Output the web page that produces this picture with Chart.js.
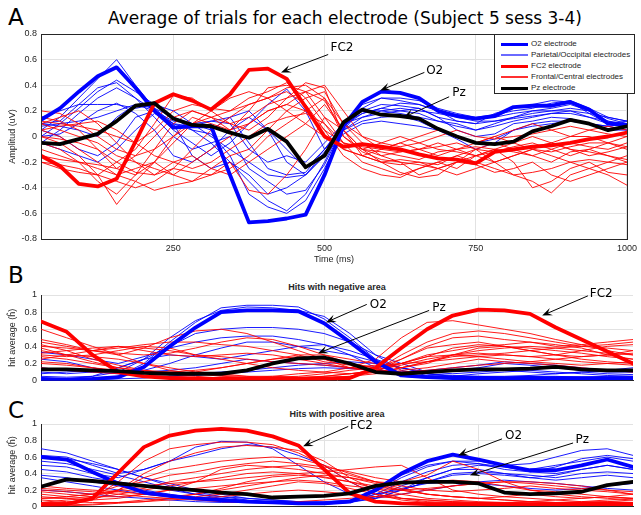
<!DOCTYPE html>
<html>
<head>
<meta charset="utf-8">
<script src="https://cdn.jsdelivr.net/npm/chart.js@4.4.1/dist/chart.umd.min.js"></script>
<style>
html, body { margin: 0; padding: 0; background: #fff; }
body { width: 641px; height: 515px; position: relative; overflow: hidden; font-family: "DejaVu Sans", sans-serif; }
canvas { position: absolute; left: 0; }
.txt { position: absolute; white-space: nowrap; line-height: 1; color: #000; }
.panel { font-size: 23px; left: 8px; }
.sub { font: bold 9px "Liberation Sans", Arial, sans-serif; color: #262626; transform: translate(-50%, -50%); }
#legend { position: absolute; left: 494px; top: 34px; width: 139px; height: 58px; border: 1px solid #262626; background: #fff; z-index: 5; }
#legend .row { position: absolute; left: 0; height: 10px; }
#legend .ln { position: absolute; left: 6px; width: 27px; }
#legend .lt { position: absolute; left: 36px; top: 0; font: 8px "Liberation Sans", Arial, sans-serif; color: #262626; line-height: 10px; white-space: nowrap; }
</style>
</head>
<body>
<div class="txt panel" style="top:6px">A</div>
<div class="txt" style="left:345px;top:18px;font-size:17px;transform:translate(-50%,-50%)">Average of trials for each electrode (Subject 5 sess 3-4)</div>
<div class="txt panel" style="top:264px">B</div>
<div class="txt sub" style="left:337px;top:287px">Hits with negative area</div>
<div class="txt panel" style="top:399px">C</div>
<div class="txt sub" style="left:337px;top:414px">Hits with positive area</div>

<canvas id="chartA" width="641" height="270" style="top:0"></canvas>
<canvas id="chartB" width="641" height="120" style="top:270px"></canvas>
<canvas id="chartC" width="641" height="118" style="top:398px"></canvas>

<div id="legend">
  <div class="row" style="top:4px"><div class="ln" style="top:4px;height:3px;background:#0000ff"></div><div class="lt">O2 electrode</div></div>
  <div class="row" style="top:15px"><div class="ln" style="top:4px;height:2px;background:#6a6aff"></div><div class="lt">Parietal/Occipital electrodes</div></div>
  <div class="row" style="top:26px"><div class="ln" style="top:4px;height:3px;background:#ff0000"></div><div class="lt">FC2 electrode</div></div>
  <div class="row" style="top:37px"><div class="ln" style="top:4px;height:2px;background:#ff3030"></div><div class="lt">Frontal/Central electrodes</div></div>
  <div class="row" style="top:48px"><div class="ln" style="top:4px;height:3px;background:#000"></div><div class="lt">Pz electrode</div></div>
</div>

<script>
( function () {
	'use strict';

	// sample times (ms)
	var timeA = [ 31.25, 62.5, 93.75, 125, 156.25, 187.5, 218.75, 250, 281.25, 312.5, 343.75, 375, 406.25, 437.5, 468.75, 500,
		531.25, 562.5, 593.75, 625, 656.25, 687.5, 718.75, 750, 781.25, 812.5, 843.75, 875, 906.25, 937.5, 968.75, 1000 ];
	var timeBC = [ 41.7, 83.3, 125, 166.7, 208.3, 250, 291.7, 333.3, 375, 416.7, 458.3, 500,
		541.7, 583.3, 625, 666.7, 708.3, 750, 791.7, 833.3, 875, 916.7, 958.3, 1000 ];

	var ticksTimeA = [ 250, 500, 750, 1000 ];
	var ticksTimeBC = [ 250, 500, 750 ];
	var ticksAmp = [ -0.8, -0.6, -0.4, -0.2, 0, 0.2, 0.4, 0.6, 0.8 ];
	var ticksHit = [ 0, 0.2, 0.4, 0.6, 0.8, 1 ];

	// ---- panel A: averaged amplitude ----
	var o2A = [ 0.13, 0.22, 0.35, 0.47, 0.54, 0.38, 0.2, 0.07, 0.08, 0.08, -0.3, -0.67, -0.66, -0.64, -0.61, -0.3,
		0.08, 0.27, 0.35, 0.34, 0.3, 0.2, 0.16, 0.14, 0.16, 0.23, 0.24, 0.24, 0.27, 0.21, 0.1, 0.09 ];
	var fc2A = [ -0.15, -0.23, -0.37, -0.39, -0.33, -0.04, 0.26, 0.33, 0.28, 0.21, 0.33, 0.52, 0.53, 0.45, 0.23, 0.0,
		-0.08, -0.06, -0.08, -0.1, -0.14, -0.17, -0.18, -0.21, -0.12, -0.1, -0.08, -0.07, -0.05, -0.02, 0.0, 0.03 ];
	var pzA = [ -0.05, -0.06, -0.02, 0.02, 0.12, 0.24, 0.26, 0.14, 0.09, 0.08, 0.03, -0.01, 0.06, -0.04, -0.24, -0.15,
		0.11, 0.21, 0.17, 0.16, 0.14, 0.06, 0.0, -0.05, -0.06, -0.04, 0.04, 0.08, 0.13, 0.1, 0.05, 0.08 ];
	var poThinA = [
		[ 0.05, 0.15, 0.3, 0.45, 0.6, 0.4, 0.22, 0.1, 0.05, 0.02, -0.15, -0.45, -0.55, -0.6, -0.5, -0.25, 0.05, 0.22, 0.3, 0.3, 0.28, 0.22, 0.18, 0.15, 0.17, 0.2, 0.22, 0.26, 0.28, 0.22, 0.15, 0.12 ],
		[ 0.0, 0.1, 0.22, 0.35, 0.44, 0.35, 0.25, 0.15, 0.05, -0.05, -0.2, -0.35, -0.5, -0.58, -0.45, -0.2, 0.1, 0.25, 0.3, 0.28, 0.25, 0.2, 0.17, 0.14, 0.15, 0.18, 0.2, 0.22, 0.25, 0.2, 0.12, 0.1 ],
		[ 0.1, 0.12, 0.25, 0.38, 0.42, 0.3, 0.15, 0.0, -0.1, -0.05, 0.0, -0.25, -0.35, -0.45, -0.42, -0.22, 0.08, 0.2, 0.25, 0.24, 0.22, 0.15, 0.12, 0.1, 0.12, 0.15, 0.18, 0.2, 0.22, 0.2, 0.14, 0.1 ],
		[ -0.05, 0.05, 0.18, 0.3, 0.38, 0.3, 0.2, 0.1, 0.08, 0.12, 0.15, -0.05, -0.25, -0.3, -0.28, -0.1, 0.1, 0.18, 0.22, 0.2, 0.18, 0.12, 0.08, 0.05, 0.08, 0.12, 0.15, 0.18, 0.18, 0.15, 0.1, 0.12 ],
		[ 0.15, 0.2, 0.25, 0.25, 0.25, 0.22, 0.25, 0.2, 0.1, 0.05, 0.15, 0.2, 0.05, -0.2, -0.3, -0.15, 0.1, 0.2, 0.2, 0.18, 0.15, 0.12, 0.1, 0.05, 0.1, 0.15, 0.2, 0.2, 0.2, 0.15, 0.12, 0.08 ],
		[ 0.05, 0.0, -0.1, -0.15, -0.05, 0.15, 0.2, 0.05, -0.05, -0.15, -0.05, 0.1, 0.25, 0.37, 0.2, -0.1, 0.05, 0.15, 0.18, 0.2, 0.22, 0.15, 0.05, 0.0, 0.02, 0.1, 0.12, 0.15, 0.14, 0.1, 0.08, 0.05 ],
		[ -0.05, -0.1, -0.15, -0.2, -0.1, 0.05, 0.18, 0.1, -0.15, -0.25, -0.2, -0.3, -0.45, -0.4, -0.3, -0.12, 0.05, 0.12, 0.15, 0.16, 0.12, 0.05, -0.02, -0.1, -0.05, 0.05, 0.1, 0.12, 0.12, 0.1, 0.05, 0.05 ],
		[ 0.1, 0.08, 0.05, 0.0, 0.15, 0.25, 0.2, 0.12, 0.1, 0.12, 0.1, -0.1, -0.2, -0.15, -0.2, -0.05, 0.1, 0.15, 0.2, 0.22, 0.2, 0.18, 0.15, 0.12, 0.12, 0.14, 0.16, 0.18, 0.2, 0.18, 0.15, 0.12 ],
		[ 0.0, 0.02, 0.1, 0.2, 0.26, 0.18, 0.05, -0.15, -0.2, -0.1, 0.05, 0.15, 0.05, -0.1, -0.25, -0.1, 0.08, 0.18, 0.22, 0.26, 0.25, 0.2, 0.12, 0.1, 0.18, 0.22, 0.25, 0.28, 0.27, 0.18, 0.1, 0.08 ],
		[ 0.08, 0.1, 0.12, 0.15, 0.2, 0.25, 0.22, 0.15, 0.1, 0.0, -0.1, -0.2, -0.3, -0.32, -0.3, -0.15, 0.02, 0.1, 0.12, 0.1, 0.08, 0.05, 0.0, -0.05, -0.02, 0.05, 0.08, 0.1, 0.12, 0.1, 0.08, 0.1 ]
	];
	var fcThinA = [
		[ 0.15, 0.12, 0.05, -0.1, -0.25, -0.3, -0.2, -0.05, 0.1, 0.15, 0.2, 0.3, 0.35, 0.42, 0.3, 0.1, -0.1, -0.15, -0.2, -0.18, -0.2, -0.22, -0.15, -0.1, -0.2, -0.3, -0.35, -0.44, -0.3, -0.25, -0.3, -0.38 ],
		[ 0.0, -0.05, -0.15, -0.3, -0.53, -0.35, -0.2, 0.0, 0.15, 0.1, 0.05, 0.2, 0.38, 0.4, 0.35, 0.15, -0.05, -0.2, -0.25, -0.3, -0.25, -0.2, -0.25, -0.15, -0.1, -0.2, -0.4, -0.35, -0.25, -0.2, -0.28, -0.3 ],
		[ -0.2, -0.22, -0.25, -0.3, -0.2, -0.1, 0.1, 0.32, 0.3, 0.2, 0.1, 0.15, 0.25, 0.3, 0.42, 0.38, 0.0, -0.1, -0.12, -0.15, -0.18, -0.12, -0.1, -0.08, -0.1, -0.12, -0.15, -0.1, -0.05, -0.08, -0.1, -0.05 ],
		[ 0.1, 0.15, 0.2, 0.1, -0.05, -0.2, -0.3, -0.25, -0.1, 0.05, 0.15, 0.25, 0.3, 0.35, 0.25, 0.05, -0.05, -0.08, -0.1, -0.12, -0.1, -0.05, -0.1, -0.15, -0.2, -0.15, -0.1, -0.12, -0.08, -0.05, -0.05, -0.1 ],
		[ 0.05, 0.0, -0.1, -0.2, -0.3, -0.25, -0.2, -0.3, -0.35, -0.25, -0.15, -0.1, 0.05, 0.2, 0.3, 0.35, 0.1, -0.05, -0.15, -0.2, -0.3, -0.25, -0.2, -0.1, -0.05, -0.1, -0.15, -0.2, -0.12, -0.1, -0.15, -0.2 ],
		[ -0.1, -0.15, -0.2, -0.25, -0.3, -0.35, -0.42, -0.38, -0.35, -0.3, -0.2, -0.42, -0.45, -0.3, -0.1, 0.15, 0.05, -0.1, -0.2, -0.28, -0.32, -0.3, -0.2, -0.15, -0.1, -0.05, 0.0, -0.05, -0.1, -0.15, -0.12, -0.08 ],
		[ 0.2, 0.18, 0.1, 0.0, -0.1, -0.15, -0.1, 0.0, 0.1, 0.2, 0.3, 0.35, 0.3, 0.2, 0.1, 0.0, -0.1, -0.15, -0.1, -0.05, 0.0, 0.05, 0.0, -0.05, 0.0, 0.05, 0.1, 0.05, 0.0, 0.05, 0.08, 0.05 ],
		[ -0.05, -0.1, -0.2, -0.35, -0.45, -0.3, -0.1, 0.1, 0.2, 0.15, 0.05, 0.1, 0.2, 0.25, 0.2, 0.05, -0.15, -0.25, -0.3, -0.32, -0.25, -0.2, -0.15, -0.2, -0.25, -0.3, -0.28, -0.25, -0.2, -0.18, -0.2, -0.15 ],
		[ 0.1, 0.05, 0.0, -0.05, -0.15, -0.2, -0.25, -0.3, -0.2, -0.1, 0.0, 0.1, 0.2, 0.25, 0.35, 0.4, 0.2, 0.0, -0.1, -0.05, -0.1, -0.15, -0.1, -0.05, 0.0, -0.05, -0.1, -0.05, 0.0, 0.0, -0.05, 0.0 ],
		[ -0.15, -0.18, -0.2, -0.22, -0.25, -0.15, 0.0, 0.15, 0.2, 0.15, 0.1, 0.05, 0.15, 0.3, 0.35, 0.28, 0.05, -0.1, -0.05, 0.0, -0.05, -0.1, -0.12, -0.15, -0.12, -0.1, -0.08, -0.05, -0.1, -0.12, -0.15, -0.18 ],
		[ 0.0, -0.02, -0.05, -0.1, -0.2, -0.28, -0.3, -0.2, -0.15, -0.25, -0.3, -0.2, -0.1, 0.0, 0.1, 0.25, 0.05, -0.15, -0.2, -0.22, -0.2, -0.25, -0.3, -0.25, -0.2, -0.15, -0.1, -0.15, -0.2, -0.25, -0.2, -0.22 ],
		[ 0.12, 0.1, 0.08, 0.05, 0.0, -0.05, 0.05, 0.2, 0.25, 0.22, 0.2, 0.25, 0.3, 0.38, 0.4, 0.3, 0.1, 0.0, -0.05, -0.08, -0.05, 0.0, 0.05, 0.0, -0.02, 0.0, 0.02, 0.05, 0.08, 0.05, 0.02, 0.0 ],
		[ -0.2, -0.25, -0.28, -0.3, -0.35, -0.4, -0.35, -0.25, -0.28, -0.3, -0.25, -0.15, 0.0, 0.1, 0.2, 0.3, 0.0, -0.12, -0.18, -0.2, -0.22, -0.25, -0.2, -0.22, -0.28, -0.25, -0.2, -0.3, -0.35, -0.3, -0.25, -0.2 ],
		[ 0.05, 0.08, 0.1, 0.12, 0.05, -0.05, -0.15, -0.2, -0.25, -0.2, -0.1, 0.0, 0.1, 0.15, 0.18, 0.1, -0.05, -0.1, -0.15, -0.12, -0.1, -0.08, -0.05, -0.1, -0.12, -0.08, -0.05, -0.1, -0.15, -0.1, -0.05, -0.08 ]
	];

	// ---- panel B: hits with negative area ----
	var o2B = [ 0.02, 0.01, 0.02, 0.04, 0.16, 0.4, 0.62, 0.8, 0.82, 0.82, 0.81, 0.67, 0.45, 0.22, 0.06, 0.04, 0.03, 0.03, 0.03, 0.03, 0.03, 0.03, 0.03, 0.03 ];
	var fc2B = [ 0.69, 0.57, 0.3, 0.1, 0.05, 0.03, 0.02, 0.02, 0.02, 0.02, 0.02, 0.02, 0.03, 0.15, 0.38, 0.6, 0.76, 0.83, 0.82, 0.78, 0.62, 0.48, 0.34, 0.2 ];
	var pzB = [ 0.13, 0.13, 0.12, 0.11, 0.09, 0.08, 0.08, 0.08, 0.12, 0.2, 0.26, 0.27, 0.2, 0.1, 0.08, 0.1, 0.12, 0.13, 0.13, 0.14, 0.16, 0.13, 0.12, 0.12 ];
	var poThinB = [
		[ 0.03, 0.02, 0.03, 0.05, 0.2, 0.45, 0.68, 0.85, 0.88, 0.88, 0.86, 0.72, 0.5, 0.25, 0.08, 0.05, 0.04, 0.03, 0.03, 0.03, 0.04, 0.04, 0.03, 0.03 ],
		[ 0.05, 0.04, 0.05, 0.1, 0.25, 0.5, 0.7, 0.82, 0.86, 0.85, 0.82, 0.75, 0.55, 0.3, 0.12, 0.06, 0.05, 0.05, 0.04, 0.05, 0.05, 0.04, 0.05, 0.05 ],
		[ 0.1, 0.08, 0.1, 0.15, 0.25, 0.4, 0.55, 0.6, 0.62, 0.62, 0.6, 0.55, 0.45, 0.3, 0.2, 0.1, 0.08, 0.1, 0.12, 0.1, 0.08, 0.1, 0.08, 0.07 ],
		[ 0.33, 0.3, 0.25, 0.2, 0.28, 0.38, 0.45, 0.5, 0.52, 0.52, 0.48, 0.42, 0.35, 0.25, 0.15, 0.1, 0.12, 0.15, 0.2, 0.18, 0.15, 0.12, 0.1, 0.1 ],
		[ 0.25, 0.22, 0.15, 0.1, 0.12, 0.2, 0.3, 0.38, 0.45, 0.45, 0.4, 0.35, 0.3, 0.22, 0.15, 0.08, 0.05, 0.08, 0.1, 0.12, 0.1, 0.08, 0.06, 0.05 ],
		[ 0.02, 0.02, 0.05, 0.15, 0.25, 0.3, 0.28, 0.25, 0.3, 0.35, 0.4, 0.42, 0.3, 0.15, 0.05, 0.03, 0.02, 0.02, 0.03, 0.05, 0.03, 0.02, 0.03, 0.04 ],
		[ 0.08, 0.1, 0.12, 0.12, 0.1, 0.12, 0.15, 0.2, 0.25, 0.22, 0.2, 0.18, 0.15, 0.12, 0.1, 0.12, 0.15, 0.18, 0.22, 0.2, 0.18, 0.15, 0.12, 0.1 ],
		[ 0.0, 0.0, 0.01, 0.02, 0.03, 0.05, 0.08, 0.1, 0.12, 0.15, 0.18, 0.2, 0.22, 0.2, 0.15, 0.08, 0.05, 0.04, 0.03, 0.02, 0.02, 0.03, 0.02, 0.02 ],
		[ 0.15, 0.12, 0.1, 0.08, 0.05, 0.05, 0.06, 0.08, 0.1, 0.12, 0.14, 0.15, 0.14, 0.12, 0.1, 0.08, 0.06, 0.05, 0.05, 0.06, 0.08, 0.1, 0.12, 0.15 ]
	];
	var fcThinB = [
		[ 0.6, 0.5, 0.4, 0.3, 0.2, 0.12, 0.08, 0.05, 0.04, 0.05, 0.08, 0.1, 0.15, 0.25, 0.5, 0.68, 0.7, 0.65, 0.6, 0.55, 0.48, 0.42, 0.35, 0.3 ],
		[ 0.48, 0.42, 0.35, 0.3, 0.38, 0.5, 0.58, 0.6, 0.55, 0.45, 0.35, 0.25, 0.15, 0.12, 0.3, 0.45, 0.55, 0.58, 0.55, 0.5, 0.45, 0.4, 0.38, 0.35 ],
		[ 0.45, 0.4, 0.35, 0.38, 0.42, 0.45, 0.45, 0.42, 0.4, 0.35, 0.3, 0.22, 0.18, 0.15, 0.2, 0.3, 0.35, 0.4, 0.42, 0.45, 0.4, 0.42, 0.45, 0.48 ],
		[ 0.4, 0.38, 0.35, 0.32, 0.3, 0.32, 0.38, 0.45, 0.5, 0.48, 0.4, 0.3, 0.2, 0.15, 0.25, 0.38, 0.42, 0.45, 0.4, 0.35, 0.3, 0.28, 0.3, 0.32 ],
		[ 0.38, 0.3, 0.22, 0.15, 0.1, 0.08, 0.1, 0.15, 0.2, 0.25, 0.3, 0.3, 0.25, 0.2, 0.15, 0.2, 0.3, 0.38, 0.4, 0.38, 0.35, 0.32, 0.28, 0.25 ],
		[ 0.35, 0.3, 0.28, 0.25, 0.2, 0.15, 0.1, 0.08, 0.05, 0.03, 0.03, 0.05, 0.08, 0.12, 0.2, 0.28, 0.3, 0.32, 0.3, 0.28, 0.3, 0.35, 0.4, 0.42 ],
		[ 0.3, 0.28, 0.3, 0.35, 0.4, 0.38, 0.3, 0.25, 0.2, 0.15, 0.12, 0.1, 0.08, 0.1, 0.15, 0.22, 0.28, 0.3, 0.32, 0.35, 0.38, 0.4, 0.42, 0.45 ],
		[ 0.28, 0.25, 0.2, 0.15, 0.12, 0.1, 0.08, 0.06, 0.05, 0.05, 0.04, 0.05, 0.08, 0.12, 0.18, 0.25, 0.3, 0.28, 0.25, 0.22, 0.2, 0.18, 0.2, 0.22 ],
		[ 0.25, 0.3, 0.35, 0.4, 0.38, 0.35, 0.3, 0.28, 0.25, 0.22, 0.2, 0.18, 0.15, 0.18, 0.2, 0.22, 0.25, 0.28, 0.3, 0.28, 0.25, 0.22, 0.2, 0.18 ],
		[ 0.22, 0.2, 0.15, 0.1, 0.05, 0.03, 0.02, 0.02, 0.02, 0.02, 0.03, 0.04, 0.05, 0.1, 0.25, 0.4, 0.5, 0.52, 0.48, 0.45, 0.42, 0.38, 0.3, 0.25 ],
		[ 0.2, 0.18, 0.15, 0.12, 0.1, 0.1, 0.12, 0.15, 0.2, 0.25, 0.28, 0.25, 0.2, 0.15, 0.12, 0.15, 0.2, 0.25, 0.22, 0.2, 0.18, 0.15, 0.12, 0.1 ],
		[ 0.15, 0.12, 0.1, 0.08, 0.06, 0.05, 0.04, 0.03, 0.03, 0.04, 0.05, 0.08, 0.12, 0.15, 0.2, 0.28, 0.38, 0.42, 0.4, 0.35, 0.3, 0.25, 0.22, 0.2 ],
		[ 0.42, 0.35, 0.25, 0.18, 0.12, 0.08, 0.05, 0.03, 0.02, 0.02, 0.02, 0.03, 0.05, 0.08, 0.15, 0.22, 0.3, 0.35, 0.38, 0.4, 0.38, 0.35, 0.32, 0.3 ],
		[ 0.32, 0.35, 0.38, 0.4, 0.35, 0.3, 0.28, 0.3, 0.32, 0.3, 0.25, 0.2, 0.15, 0.12, 0.1, 0.12, 0.15, 0.18, 0.2, 0.22, 0.25, 0.28, 0.3, 0.35 ]
	];

	// ---- panel C: hits with positive area ----
	var o2C = [ 0.6, 0.57, 0.42, 0.28, 0.17, 0.13, 0.1, 0.08, 0.06, 0.05, 0.04, 0.04, 0.06, 0.2, 0.4, 0.55, 0.63, 0.57, 0.5, 0.44, 0.44, 0.5, 0.57, 0.48 ];
	var fc2C = [ 0.03, 0.03, 0.1, 0.41, 0.72, 0.86, 0.92, 0.94, 0.92, 0.85, 0.74, 0.45, 0.16, 0.06, 0.04, 0.03, 0.03, 0.03, 0.03, 0.03, 0.03, 0.03, 0.03, 0.03 ];
	var pzC = [ 0.24, 0.33, 0.31, 0.28, 0.25, 0.22, 0.2, 0.17, 0.15, 0.11, 0.12, 0.13, 0.16, 0.25, 0.29, 0.3, 0.3, 0.28, 0.17, 0.15, 0.16, 0.18, 0.26, 0.3 ];
	var poThinC = [
		[ 0.7, 0.65, 0.55, 0.45, 0.35, 0.25, 0.18, 0.12, 0.08, 0.05, 0.04, 0.04, 0.06, 0.2, 0.38, 0.5, 0.55, 0.55, 0.5, 0.52, 0.6, 0.68, 0.7, 0.62 ],
		[ 0.62, 0.6, 0.5, 0.4, 0.45, 0.55, 0.72, 0.79, 0.78, 0.7, 0.5, 0.3, 0.15, 0.1, 0.2, 0.35, 0.45, 0.5, 0.48, 0.45, 0.5, 0.55, 0.6, 0.55 ],
		[ 0.55, 0.52, 0.45, 0.38, 0.3, 0.22, 0.15, 0.1, 0.06, 0.04, 0.03, 0.03, 0.05, 0.15, 0.3, 0.42, 0.5, 0.52, 0.48, 0.42, 0.4, 0.45, 0.5, 0.45 ],
		[ 0.5, 0.48, 0.4, 0.35, 0.45, 0.55, 0.62, 0.7, 0.75, 0.72, 0.62, 0.5, 0.3, 0.15, 0.2, 0.3, 0.4, 0.42, 0.4, 0.38, 0.35, 0.4, 0.42, 0.4 ],
		[ 0.45, 0.42, 0.35, 0.3, 0.25, 0.2, 0.15, 0.12, 0.1, 0.08, 0.06, 0.05, 0.05, 0.1, 0.2, 0.3, 0.38, 0.4, 0.38, 0.35, 0.32, 0.35, 0.38, 0.35 ],
		[ 0.38, 0.35, 0.3, 0.25, 0.2, 0.15, 0.1, 0.08, 0.06, 0.05, 0.04, 0.04, 0.05, 0.12, 0.25, 0.35, 0.45, 0.45, 0.4, 0.35, 0.38, 0.45, 0.5, 0.45 ],
		[ 0.35, 0.3, 0.25, 0.2, 0.15, 0.12, 0.1, 0.08, 0.06, 0.05, 0.05, 0.06, 0.08, 0.15, 0.22, 0.28, 0.3, 0.28, 0.25, 0.22, 0.2, 0.22, 0.25, 0.28 ],
		[ 0.2, 0.18, 0.15, 0.12, 0.1, 0.08, 0.06, 0.05, 0.05, 0.04, 0.04, 0.05, 0.06, 0.1, 0.15, 0.2, 0.25, 0.3, 0.32, 0.3, 0.28, 0.25, 0.22, 0.2 ],
		[ 0.6, 0.58, 0.52, 0.45, 0.35, 0.28, 0.2, 0.15, 0.1, 0.08, 0.06, 0.05, 0.06, 0.18, 0.35, 0.48, 0.55, 0.52, 0.45, 0.42, 0.48, 0.58, 0.62, 0.58 ]
	];
	var fcThinC = [
		[ 0.05, 0.05, 0.1, 0.3, 0.55, 0.7, 0.75, 0.78, 0.78, 0.75, 0.65, 0.5, 0.3, 0.15, 0.08, 0.05, 0.04, 0.03, 0.03, 0.03, 0.04, 0.05, 0.05, 0.05 ],
		[ 0.02, 0.03, 0.08, 0.2, 0.4, 0.55, 0.65, 0.72, 0.74, 0.72, 0.68, 0.55, 0.35, 0.2, 0.1, 0.06, 0.05, 0.04, 0.05, 0.06, 0.08, 0.1, 0.12, 0.1 ],
		[ 0.1, 0.1, 0.12, 0.2, 0.35, 0.45, 0.5, 0.55, 0.58, 0.6, 0.58, 0.5, 0.4, 0.3, 0.22, 0.15, 0.12, 0.1, 0.12, 0.15, 0.12, 0.1, 0.12, 0.15 ],
		[ 0.15, 0.12, 0.15, 0.25, 0.3, 0.38, 0.42, 0.48, 0.52, 0.55, 0.52, 0.48, 0.42, 0.35, 0.3, 0.38, 0.55, 0.45, 0.3, 0.2, 0.15, 0.12, 0.1, 0.08 ],
		[ 0.2, 0.18, 0.15, 0.18, 0.22, 0.3, 0.35, 0.4, 0.45, 0.48, 0.5, 0.45, 0.38, 0.3, 0.25, 0.2, 0.18, 0.2, 0.22, 0.25, 0.22, 0.2, 0.18, 0.15 ],
		[ 0.05, 0.08, 0.1, 0.15, 0.2, 0.25, 0.3, 0.35, 0.4, 0.42, 0.4, 0.35, 0.3, 0.25, 0.2, 0.15, 0.12, 0.1, 0.08, 0.06, 0.05, 0.05, 0.06, 0.08 ],
		[ 0.25, 0.22, 0.2, 0.18, 0.15, 0.12, 0.15, 0.2, 0.25, 0.3, 0.35, 0.38, 0.35, 0.3, 0.28, 0.3, 0.32, 0.3, 0.25, 0.2, 0.18, 0.15, 0.12, 0.1 ],
		[ 0.02, 0.02, 0.03, 0.05, 0.08, 0.1, 0.12, 0.15, 0.2, 0.25, 0.3, 0.28, 0.22, 0.15, 0.1, 0.08, 0.06, 0.05, 0.05, 0.04, 0.04, 0.05, 0.06, 0.05 ],
		[ 0.12, 0.1, 0.08, 0.1, 0.15, 0.2, 0.22, 0.25, 0.28, 0.3, 0.32, 0.3, 0.25, 0.22, 0.2, 0.22, 0.25, 0.28, 0.3, 0.28, 0.25, 0.22, 0.2, 0.18 ],
		[ 0.08, 0.06, 0.05, 0.05, 0.06, 0.08, 0.1, 0.12, 0.15, 0.18, 0.2, 0.18, 0.15, 0.12, 0.1, 0.08, 0.06, 0.05, 0.04, 0.04, 0.05, 0.06, 0.08, 0.1 ],
		[ 0.18, 0.15, 0.12, 0.12, 0.15, 0.2, 0.3, 0.45, 0.5, 0.48, 0.45, 0.4, 0.35, 0.28, 0.2, 0.15, 0.12, 0.1, 0.08, 0.06, 0.05, 0.04, 0.04, 0.05 ],
		[ 0.0, 0.01, 0.02, 0.04, 0.06, 0.1, 0.15, 0.22, 0.3, 0.36, 0.38, 0.36, 0.3, 0.22, 0.15, 0.1, 0.08, 0.06, 0.05, 0.04, 0.03, 0.03, 0.02, 0.02 ],
		[ 0.22, 0.2, 0.18, 0.15, 0.12, 0.1, 0.08, 0.06, 0.05, 0.05, 0.06, 0.08, 0.1, 0.12, 0.15, 0.2, 0.25, 0.28, 0.3, 0.3, 0.28, 0.25, 0.2, 0.15 ],
		[ 0.1, 0.12, 0.15, 0.2, 0.25, 0.28, 0.3, 0.32, 0.35, 0.38, 0.4, 0.42, 0.45, 0.48, 0.5, 0.35, 0.2, 0.15, 0.12, 0.1, 0.08, 0.06, 0.05, 0.05 ]
	];

	// arrow labels, in data units: tip, line start, text left/middle
	var notesA = [
		{ label: 'FC2', tip: [ 428, 0.50 ], from: [ 506, 0.64 ], text: [ 510, 0.69 ] },
		{ label: 'O2', tip: [ 592, 0.36 ], from: [ 665, 0.50 ], text: [ 668, 0.51 ] },
		{ label: 'Pz', tip: [ 631, 0.15 ], from: [ 706, 0.31 ], text: [ 711, 0.34 ] }
	];
	var notesB = [
		{ label: 'O2', tip: [ 503, 0.68 ], from: [ 569, 0.89 ], text: [ 574, 0.89 ] },
		{ label: 'Pz', tip: [ 490, 0.32 ], from: [ 670, 0.82 ], text: [ 675, 0.85 ] },
		{ label: 'FC2', tip: [ 853, 0.76 ], from: [ 927, 0.99 ], text: [ 930, 1.01 ] }
	];
	var notesC = [
		{ label: 'FC2', tip: [ 466, 0.73 ], from: [ 539, 0.97 ], text: [ 542, 0.98 ] },
		{ label: 'O2', tip: [ 717, 0.62 ], from: [ 788, 0.82 ], text: [ 793, 0.86 ] },
		{ label: 'Pz', tip: [ 736, 0.38 ], from: [ 903, 0.77 ], text: [ 907, 0.81 ] }
	];

	var BLUE = '#0000ff', RED = '#ff0000', INK = '#262626', GRID = '#e2e2e2';
	var tickFont = { family: '"Liberation Sans", Arial, sans-serif', size: 9 };

	function pts( xs, ys ) {
		return ys.map( function ( y, i ) { return { x: xs[ i ], y: y }; } );
	}

	function line( xs, ys, color, width ) {
		return {
			data: pts( xs, ys ),
			borderColor: color,
			borderWidth: width,
			pointRadius: 0,
			tension: 0,
			fill: false,
			borderJoinStyle: 'round',
			borderCapStyle: 'round'
		};
	}

	// first dataset is drawn on top
	function buildSets( xs, o2, fc2, pz, poThin, fcThin ) {
		var sets = [ line( xs, pz, '#000', 3.8 ), line( xs, fc2, RED, 3.8 ), line( xs, o2, BLUE, 3.8 ) ];
		fcThin.forEach( function ( s ) { sets.push( line( xs, s, RED, 0.9 ) ); } );
		poThin.forEach( function ( s ) { sets.push( line( xs, s, BLUE, 0.9 ) ); } );
		return sets;
	}

	var arrowPlugin = {
		id: 'arrows',
		afterDatasetsDraw: function ( chart, args, opts ) {
			var ctx = chart.ctx, sx = chart.scales.x, sy = chart.scales.y;
			( opts.items || [] ).forEach( function ( a ) {
				var tx = sx.getPixelForValue( a.tip[ 0 ] ), ty = sy.getPixelForValue( a.tip[ 1 ] );
				var fx = sx.getPixelForValue( a.from[ 0 ] ), fy = sy.getPixelForValue( a.from[ 1 ] );
				var ang = Math.atan2( ty - fy, tx - fx );
				var c = Math.cos( ang ), s = Math.sin( ang );
				ctx.save();
				ctx.strokeStyle = '#000';
				ctx.fillStyle = '#000';
				ctx.lineWidth = 1;
				ctx.beginPath();
				ctx.moveTo( fx, fy );
				ctx.lineTo( tx - 6 * c, ty - 6 * s );
				ctx.stroke();
				ctx.beginPath();
				ctx.moveTo( tx, ty );
				ctx.lineTo( tx - 10 * c + 4 * s, ty - 10 * s - 4 * c );
				ctx.lineTo( tx - 6 * c, ty - 6 * s );
				ctx.lineTo( tx - 10 * c - 4 * s, ty - 10 * s + 4 * c );
				ctx.closePath();
				ctx.fill();
				ctx.font = '12px "DejaVu Sans", sans-serif';
				ctx.textAlign = 'left';
				ctx.textBaseline = 'middle';
				ctx.fillText( a.label, sx.getPixelForValue( a.text[ 0 ] ), sy.getPixelForValue( a.text[ 1 ] ) );
				ctx.restore();
			} );
		}
	};

	var framePlugin = {
		id: 'frame',
		afterDraw: function ( chart, args, opts ) {
			if ( !opts.show ) { return; }
			var a = chart.chartArea, ctx = chart.ctx;
			ctx.save();
			ctx.strokeStyle = INK;
			ctx.lineWidth = 1;
			ctx.strokeRect( Math.round( a.left ) + 0.5, Math.round( a.top ) + 0.5, Math.round( a.right - a.left ), Math.round( a.bottom - a.top ) );
			ctx.restore();
		}
	};

	function makeChart( id, cfg ) {
		var showXLabels = cfg.xTicks === ticksTimeA;
		new Chart( document.getElementById( id ), {
			type: 'line',
			data: { datasets: cfg.sets },
			plugins: [ arrowPlugin, framePlugin ],
			options: {
				responsive: false,
				animation: false,
				events: [],
				layout: { padding: { top: cfg.top, right: cfg.right, left: 0, bottom: 0 } },
				plugins: {
					legend: { display: false },
					tooltip: { enabled: false },
					arrows: { items: cfg.notes },
					frame: { show: cfg.frame }
				},
				scales: {
					x: {
						type: 'linear',
						min: cfg.xMin,
						max: 1000,
						afterBuildTicks: function ( s ) { s.ticks = cfg.xTicks.map( function ( v ) { return { value: v }; } ); },
						afterFit: function ( s ) { s.height = cfg.xHeight; },
						grid: { color: GRID, drawTicks: false },
						border: { display: true, color: INK },
						ticks: {
							display: showXLabels,
							color: INK,
							font: tickFont,
							padding: 4,
							maxRotation: 0,
							callback: function ( v ) { return String( v ); }
						},
						title: {
							display: showXLabels,
							text: 'Time (ms)',
							color: INK,
							font: tickFont,
							padding: { top: 0, bottom: 5 }
						}
					},
					y: {
						min: cfg.yTicks[ 0 ],
						max: cfg.yTicks[ cfg.yTicks.length - 1 ],
						afterBuildTicks: function ( s ) { s.ticks = cfg.yTicks.map( function ( v ) { return { value: v }; } ); },
						afterFit: function ( s ) { s.width = 41; },
						grid: { color: GRID, drawTicks: false },
						border: { display: true, color: INK },
						ticks: {
							color: INK,
							font: tickFont,
							padding: 4,
							callback: function ( v ) { return String( Math.round( v * 10 ) / 10 ); }
						},
						title: {
							display: true,
							text: cfg.yTitle,
							color: INK,
							font: tickFont,
							padding: { top: 7, bottom: 0 }
						}
					}
				}
			}
		} );
	}

	makeChart( 'chartA', {
		sets: buildSets( timeA, o2A, fc2A, pzA, poThinA, fcThinA ),
		notes: notesA, frame: true, top: 34, right: 9, xHeight: 31,
		xMin: 31.25, xTicks: ticksTimeA, yTicks: ticksAmp, yTitle: 'Amplitud (uV)'
	} );
	makeChart( 'chartB', {
		sets: buildSets( timeBC, o2B, fc2B, pzB, poThinB, fcThinB ),
		notes: notesB, frame: false, top: 25, right: 8, xHeight: 3,
		xMin: 41.7, xTicks: ticksTimeBC, yTicks: ticksHit, yTitle: 'hit average (ĥ)'
	} );
	makeChart( 'chartC', {
		sets: buildSets( timeBC, o2C, fc2C, pzC, poThinC, fcThinC ),
		notes: notesC, frame: false, top: 26, right: 8, xHeight: 2,
		xMin: 41.7, xTicks: ticksTimeBC, yTicks: ticksHit, yTitle: 'hit average (ĥ)'
	} );
} )();
</script>
</body>
</html>
